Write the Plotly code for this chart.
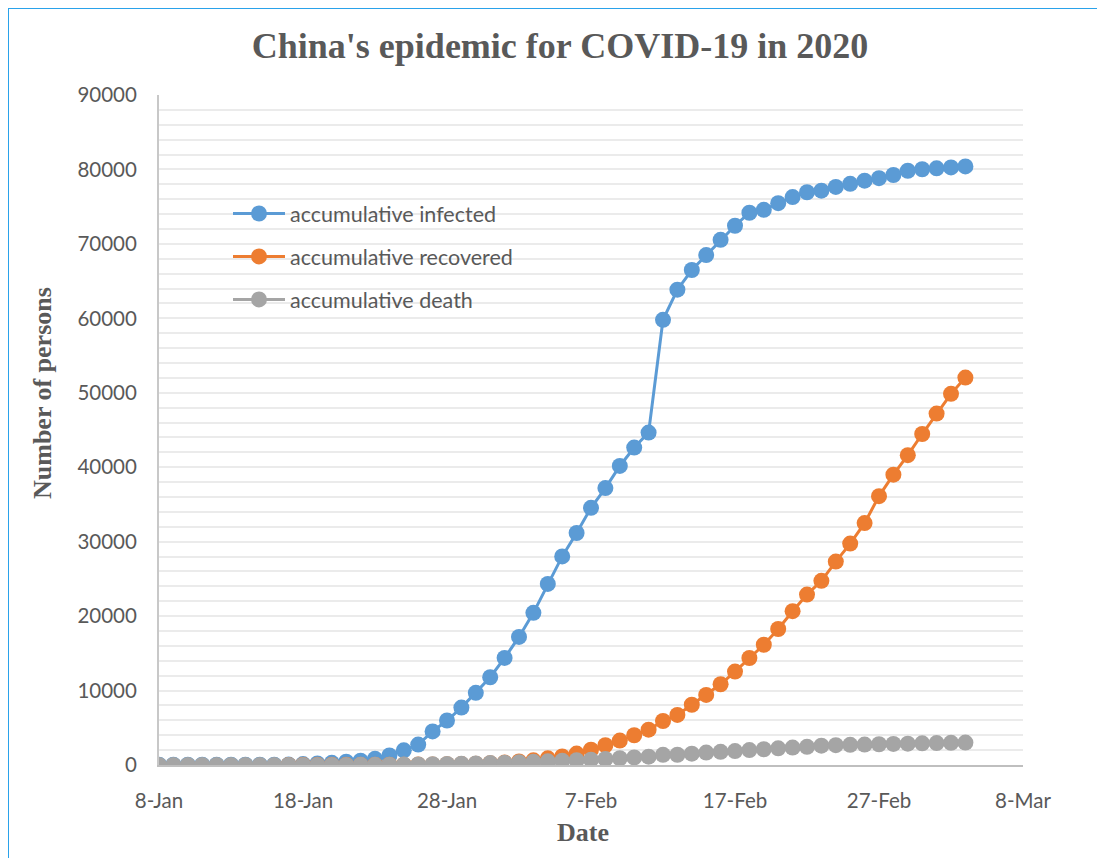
import pandas as pd
import plotly.graph_objects as go

# ---- data ----
dates = pd.date_range("2020-01-08", "2020-03-04", freq="D").strftime("%Y-%m-%d").tolist()

infected = [41, 41, 41, 41, 41, 41, 41, 41, 41, 62, 121, 198, 291, 440, 571, 830,
            1287, 1975, 2744, 4515, 5974, 7711, 9692, 11791,
            14380, 17205, 20438, 24324, 28018, 31161, 34546, 37198, 40171, 42638,
            44653, 59804, 63851, 66492, 68500, 70548, 72436, 74185, 74576, 75465,
            76288, 76936, 77150, 77658, 78064, 78497, 78824, 79251, 79824,
            80026, 80151, 80270, 80409]

recovered = [None, None, None, None, None, None, None, None, None, 12, 17, 25, 25, 25, 28, 34,
             38, 49, 51, 60, 103, 124, 171, 243,
             328, 475, 632, 892, 1153, 1540, 2050, 2649, 3281, 3996,
             4740, 5911, 6723, 8096, 9419, 10844, 12552, 14376, 16155, 18264,
             20659, 22888, 24734, 27323, 29745, 32495, 36117, 39002, 41625,
             44462, 47204, 49856, 52045]

death = [0, 0, 0, 1, 1, 1, 1, 1, 1, 2, 2, 3, 6, 9, 17, 25,
         41, 56, 80, 106, 132, 170, 213, 259,
         304, 361, 425, 490, 563, 636, 722, 811, 908, 1016,
         1113, 1367, 1380, 1523, 1665, 1770, 1868, 2004, 2118, 2236,
         2345, 2442, 2592, 2663, 2715, 2744, 2788, 2835, 2870,
         2912, 2943, 2981, 3012]

series_names = ["accumulative infected", "accumulative recovered", "accumulative death"]
series_colors = ["#5b9bd5", "#ed7d31", "#a5a5a5"]

# ---- layout geometry (page has an 8px body offset) ----
OFF = 8
W, H = 1105, 858
ML, MR, MT, MB = 159 - OFF, 90, 95 - OFF, 101
PW, PH = W - ML - MR, H - MT - MB


def px_x(page_x):
    return (page_x - OFF - ML) / PW


def px_y(page_y):
    return (H - MB - (page_y - OFF)) / PH


fig = go.Figure()
for i, (name, vals, col) in enumerate(zip(series_names, [infected, recovered, death], series_colors)):
    fig.add_trace(go.Scatter(
        x=dates, y=vals, name=name, mode="lines+markers",
        line=dict(color=col, width=3),
        marker=dict(color=col, size=16, symbol="circle"),
        legendgroup=f"g{i}", connectgaps=False,
    ))

axis_font = dict(family="Lato", size=20.5, color="#595959")
title_font = dict(family="Liberation Serif", size=26, color="#595959")

fig.update_layout(
    width=W, height=H,
    margin=dict(l=ML, r=MR, t=MT, b=MB),
    paper_bgcolor="white", plot_bgcolor="white",
    title=dict(text="<b>China's epidemic for COVID-19 in 2020</b>",
               font=dict(family="Liberation Serif", size=36, color="#595959"),
               x=(560 - OFF) / W, xanchor="center", y=1 - (45 - OFF) / H, yanchor="middle"),
    xaxis=dict(
        type="date", range=["2020-01-08", "2020-03-08"],
        tick0="2020-01-08", dtick=10 * 86400000, tickformat="%-d-%b",
        showgrid=False, showline=True, linecolor="#bfbfbf", linewidth=2,
        ticks="", tickfont=axis_font, ticklabelstandoff=16,
        zeroline=False,
    ),
    yaxis=dict(
        range=[0, 90000], dtick=10000, tickformat="d",
        showgrid=True, gridcolor="#ebebeb", gridwidth=1.5,
        minor=dict(dtick=2000, showgrid=True, gridcolor="#ebebeb", gridwidth=1.5),
        showline=True, linecolor="#c8c8c8", linewidth=2,
        ticks="", tickfont=axis_font, ticklabelstandoff=16,
        zeroline=False,
    ),
    legend=dict(
        x=px_x(228), xanchor="left", y=px_y(193), yanchor="top",
        bgcolor="rgba(0,0,0,0)", font=dict(family="Lato", size=21.5, color="#595959"),
        traceorder="grouped", tracegroupgap=12, itemwidth=52,
    ),
    showlegend=True,
    annotations=[
        dict(text="<b>Number of persons</b>", font=title_font, textangle=-90,
             xref="paper", yref="paper", x=px_x(42), y=px_y(393),
             xanchor="center", yanchor="middle", showarrow=False),
        dict(text="<b>Date</b>", font=title_font,
             xref="paper", yref="paper", x=px_x(583), y=px_y(832),
             xanchor="center", yanchor="middle", showarrow=False),
    ],
    shapes=[dict(
        type="rect", xref="paper", yref="paper",
        x0=px_x(8), x1=px_x(W + 40),
        y0=px_y(H + 40), y1=px_y(8),
        line=dict(color="#2aa2ea", width=2), fillcolor="rgba(0,0,0,0)", layer="below",
    )],
)

fig.write_html("out.html")
